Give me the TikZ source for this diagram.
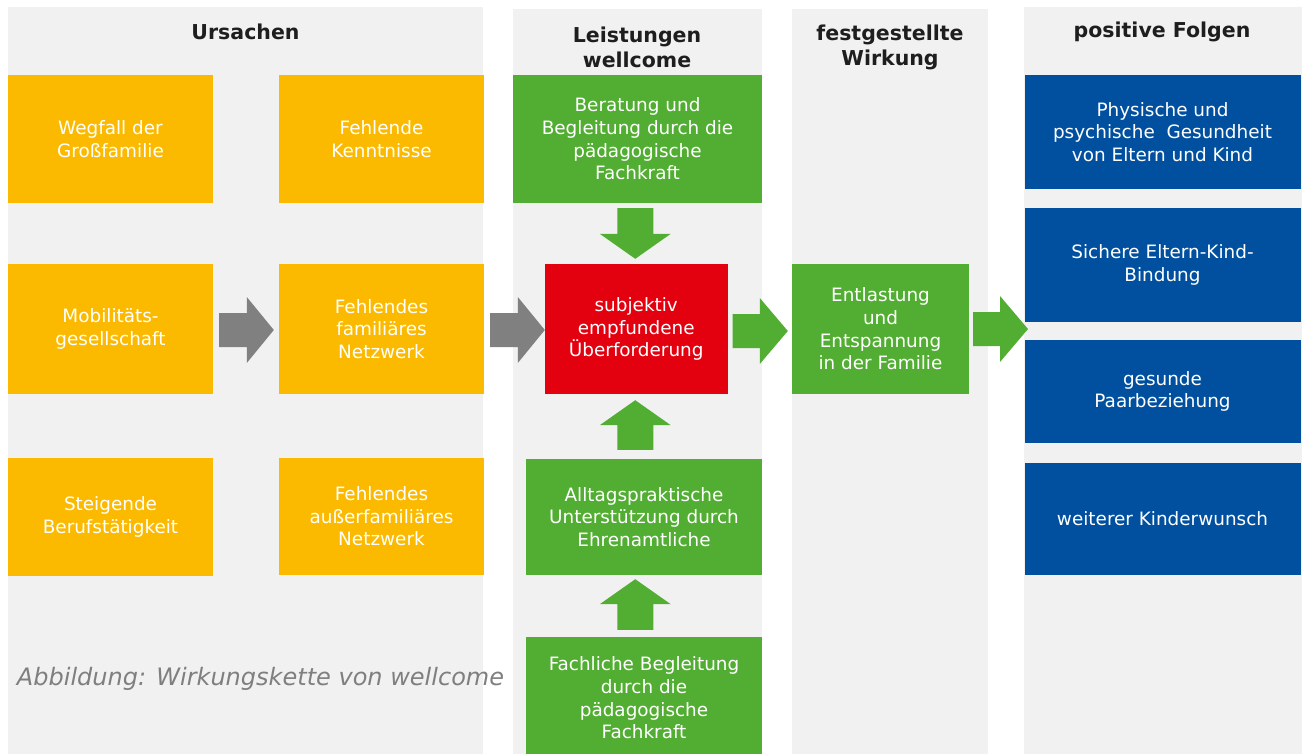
\documentclass[tikz,border=0pt]{standalone}
\usepackage{fontspec}
\setmainfont{DejaVu Sans}
\usetikzlibrary{calc}
\definecolor{bgcol}{HTML}{F1F1F1}
\definecolor{yel}{HTML}{FBBA00}
\definecolor{grn}{HTML}{52AE32}
\definecolor{rd}{HTML}{E3000F}
\definecolor{blu}{HTML}{00509F}
\definecolor{arrgray}{HTML}{808080}
\definecolor{headcol}{HTML}{1E1E1E}
\definecolor{capcol}{HTML}{7F7F7F}
\newcommand\blockarrow[6]{%
  \coordinate (hb) at ($(#3)!#6pt!(#2)$);
  \fill[#1] ($(#2)!#4pt!90:(#3)$) -- ($(hb)!#4pt!90:(#3)$) -- ($(hb)!#5pt!90:(#3)$) -- (#3)
    -- ($(hb)!#5pt!-90:(#3)$) -- ($(hb)!#4pt!-90:(#3)$) -- ($(#2)!#4pt!-90:(#3)$) -- cycle;}
\tikzset{
  colbg/.style={fill=bgcol, inner sep=0, draw=none},
  head/.style={inner sep=0, align=center, text=headcol, font=\fontsize{20.5}{25}\selectfont\bfseries},
  box/.style={inner sep=0, align=center, text=white, font=\fontsize{18.4}{22.6}\selectfont},
  ybox/.style={box, fill=yel},
  gbox/.style={box, fill=grn},
  rbox/.style={box, fill=rd},
  bbox/.style={box, fill=blu},
}
\begin{document}
\begin{tikzpicture}[x=1pt,y=-1pt]
\useasboundingbox (0,0) rectangle (1308,753);
\fill[white] (0,0) rectangle (1308,753);
% column backgrounds
\node[colbg, minimum width=475pt, minimum height=753pt] (c1) at (245.5,383.5) {};
\node[colbg, minimum width=249pt, minimum height=751pt] (c2) at (637.5,384.5) {};
\node[colbg, minimum width=196pt, minimum height=751pt] (c3) at (890,384.5) {};
\node[colbg, minimum width=278pt, minimum height=753pt] (c4) at (1163,383.5) {};
% headers
\node[head] (h1) at (245.5,31.5) {Ursachen};
\node[head] (h2) at (637,47.5) {Leistungen\\wellcome};
\node[head] (h3) at (890,47.5) {festgestellte\\Wirkung};
\node[head] (h4) at (1162,31.5) {positive Folgen};
% causes
\node[ybox, minimum width=205pt, minimum height=128pt] (y1) at (110.5,139) {Wegfall der\\Großfamilie};
\node[ybox, minimum width=205pt, minimum height=128pt] (y2) at (381.5,139) {Fehlende\\Kenntnisse};
\node[ybox, minimum width=205pt, minimum height=130pt] (y3) at (110.5,329) {Mobilitäts-\\gesellschaft};
\node[ybox, minimum width=205pt, minimum height=130pt] (y4) at (381.5,329) {Fehlendes\\familiäres\\Netzwerk};
\node[ybox, minimum width=205pt, minimum height=118pt] (y5) at (110.5,517) {Steigende\\Berufstätigkeit};
\node[ybox, minimum width=205pt, minimum height=117pt] (y6) at (381.5,516.5) {Fehlendes\\außerfamiliäres\\Netzwerk};
% services
\node[gbox, minimum width=249pt, minimum height=128pt] (g1) at (637.5,139) {Beratung und\\Begleitung durch die\\pädagogische\\Fachkraft};
\node[rbox, minimum width=182.5pt, minimum height=130pt] (red) at (636.25,329) {subjektiv\\empfundene\\Überforderung};
\node[gbox, minimum width=236pt, minimum height=116pt] (g2) at (644,517) {Alltagspraktische\\Unterstützung durch\\Ehrenamtliche};
\node[gbox, minimum width=236pt, minimum height=122pt] (g3) at (644,698) {Fachliche Begleitung\\durch die\\pädagogische\\Fachkraft};
% effect
\node[gbox, minimum width=177pt, minimum height=130pt] (g4) at (880.5,329) {Entlastung\\und\\Entspannung\\in der Familie};
% consequences
\node[bbox, minimum width=276pt, minimum height=114pt] (b1) at (1162.5,132) {Physische und\\psychische\ \ Gesundheit\\von Eltern und Kind};
\node[bbox, minimum width=276pt, minimum height=114pt] (b2) at (1162.5,265) {Sichere Eltern-Kind-\\Bindung};
\node[bbox, minimum width=276pt, minimum height=103pt] (b3) at (1162.5,391.5) {gesunde\\Paarbeziehung};
\node[bbox, minimum width=276pt, minimum height=112pt] (b4) at (1162.5,519) {weiterer Kinderwunsch};
% caption
\node[inner sep=0, anchor=base, text=capcol, font=\fontsize{24}{28}\selectfont\itshape] (cap) at (260.5,685) {Abbildung: Wirkungskette von wellcome};
% connectors
\coordinate (a1s) at ($(y3.east)+(6,1)$);
\coordinate (a1t) at ($(y4.west)+(-5,1)$);
\blockarrow{arrgray}{a1s}{a1t}{17}{33}{27}
\coordinate (a2s) at ($(y4.east)+(6,1)$);
\coordinate (a2t) at ($(red.west|-a2s)$);
\blockarrow{arrgray}{a2s}{a2t}{17}{33}{27}
\coordinate (a3s) at ($(red.east)+(5,2)$);
\coordinate (a3t) at ($(g4.west)+(-4,2)$);
\blockarrow{grn}{a3s}{a3t}{17}{33}{28}
\coordinate (folgen) at (1028,329);
\coordinate (a4s) at ($(g4.east|-folgen)+(4,0)$);
\blockarrow{grn}{a4s}{folgen}{17}{33}{28}
\coordinate (d1s) at ($(red.north|-g1.south)+(-1,5)$);
\coordinate (d1t) at ($(red.north)+(-1,-5)$);
\blockarrow{grn}{d1s}{d1t}{18}{35.5}{25}
\coordinate (u1s) at ($(red.south|-g2.north)+(-1,-9)$);
\coordinate (u1t) at ($(red.south)+(-1,6)$);
\blockarrow{grn}{u1s}{u1t}{18}{35.5}{25}
\coordinate (u2s) at ($(red.south|-g3.north)+(-1,-7)$);
\coordinate (u2t) at ($(red.south|-g2.south)+(-1,4)$);
\blockarrow{grn}{u2s}{u2t}{18}{35.5}{25}
\end{tikzpicture}
\end{document}
